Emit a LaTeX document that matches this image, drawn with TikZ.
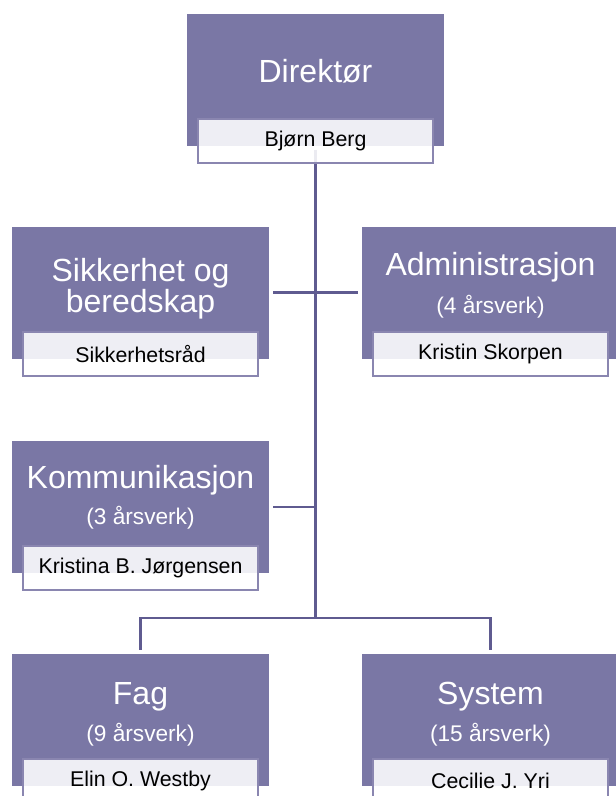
\documentclass[tikz,border=0pt]{standalone}
\usepackage{fontspec}
\setmainfont{Liberation Sans}
\usetikzlibrary{calc}
\definecolor{unitfill}{HTML}{7A77A5}
\definecolor{linkline}{HTML}{5F5B90}
\definecolor{nameedge}{HTML}{8A86B0}
\tikzset{
	unit/.style={fill=unitfill, inner sep=0pt, minimum width=192.75pt, minimum height=99pt},
	namebox/.style={draw=nameedge, line width=1.2pt, fill=white, fill opacity=0.88, text opacity=1,
		inner sep=0pt, minimum width=176.25pt, minimum height=33pt, font=\fontsize{16}{19}\selectfont},
	title/.style={text=white, align=center, font=\fontsize{24}{27}\selectfont},
	subtitle/.style={text=white, font=\fontsize{17}{20}\selectfont},
	link/.style={draw=linkline, line width=2.2pt, shorten <=3pt, shorten >=3pt}
}
\begin{document}
\begin{tikzpicture}[x=0.75pt,y=0.75pt,yscale=-1]
	\clip (0,0) rectangle (616,796);
	%units
	\node[unit] (dir) at (315.5,80) {};
	\node[unit] (sik) at (140.5,292.5) {};
	\node[unit] (adm) at (490.5,292.5) {};
	\node[unit] (kom) at (140.5,507) {};
	\node[unit] (fag) at (140.5,720) {};
	\node[unit] (sys) at (490.5,720) {};
	\coordinate (split) at (dir.south |- 0,618);
	
	%lines
	\draw[link, shorten >=-1.1pt] (dir.south) -- (split);
	\draw[link] (sik.east) -- (adm.west);
	\draw[link, shorten >=0pt] (kom.east) -- (kom.east -| split);
	\draw[link] (fag.north) |- (split) -| (sys.north);
	
	% Text Node
	\node[title] (dir-t) at ($(dir)+(0,-9)$) {Direktør};
	\node[title] (sik-t) at ($(sik)+(0,-4)$) {Sikkerhet og\\[-4pt]beredskap};
	\node[title] (adm-t) at ($(adm)+(0,-25)$) {Administrasjon};
	\node[subtitle] (adm-s) at ($(adm)+(0,14)$) {(4 årsverk)};
	\node[title] (kom-t) at ($(kom)+(0,-27)$) {Kommunikasjon};
	\node[subtitle] (kom-s) at ($(kom)+(0,11)$) {(3 årsverk)};
	\node[title] (fag-t) at ($(fag)+(0,-23)$) {Fag};
	\node[subtitle] (fag-s) at ($(fag)+(0,15)$) {(9 årsverk)};
	\node[title] (sys-t) at ($(sys)+(0,-23)$) {System};
	\node[subtitle] (sys-s) at ($(sys)+(0,15)$) {(15 årsverk)};
	
	%names
	\node[namebox] (dir-n) at ($(dir.south)+(0,-5)$) {Bjørn Berg};
	\node[namebox] (sik-n) at ($(sik.south)+(0,-5)$) {Sikkerhetsråd};
	\node[namebox] (adm-n) at ($(adm.south)+(0,-5)$) {Kristin Skorpen};
	\node[namebox] (kom-n) at ($(kom.south)+(0,-5)$) {Kristina B. Jørgensen};
	\node[namebox] (fag-n) at ($(fag.south)+(0,-5)$) {Elin O. Westby};
	\node[namebox] (sys-n) at ($(sys.south)+(0,-5)$) {Cecilie J. Yri};
\end{tikzpicture}
\end{document}
